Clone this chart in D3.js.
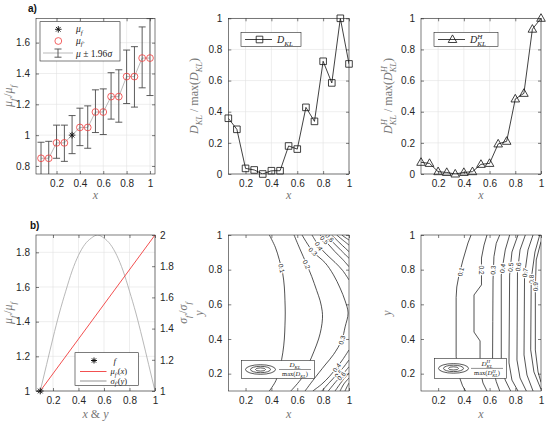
<!DOCTYPE html>
<html>
<head>
<meta charset="utf-8">
<script src="https://cdn.jsdelivr.net/npm/d3@7"></script>
<style>
  body { margin: 0; background: #fff; }
  svg { display: block; }
  .tick-label { font-family: "Liberation Sans", Arial, sans-serif; font-size: 10px; fill: #262626; }
  .math { font-family: "Liberation Serif", "Times New Roman", serif; }
  .panel-tag { font-family: "Liberation Sans", Arial, sans-serif; font-size: 10px; font-weight: bold; fill: #111; }
</style>
</head>
<body>
<svg id="chart" width="548" height="436"></svg>
<script>
//////////////////////////////////////////////////////////////////////
// Data
//////////////////////////////////////////////////////////////////////
const unitTicks = [0.2, 0.4, 0.6, 0.8, 1];
const ratioTicks = [0.8, 1, 1.2, 1.4, 1.6];
const divTicks = [0, 0.2, 0.4, 0.6, 0.8, 1];
const muTicksLeft = [1, 1.2, 1.4, 1.6, 1.8];
const sigmaTicksRight = [1, 1.2, 1.4, 1.6, 1.8, 2];

// row a) : sampled candidates f'
const sampleX = [0.067, 0.133, 0.2, 0.267, 0.333, 0.4, 0.467, 0.533, 0.6, 0.667, 0.733, 0.8, 0.867, 0.933, 1];
const refIndex = 4; // this sample is f itself
const muRatio = [0.85, 0.85, 0.95, 0.95, 1.0, 1.05, 1.05, 1.15, 1.15, 1.25, 1.25, 1.38, 1.38, 1.5, 1.5];
const muUpper = [0.954, 0.96, 1.065, 1.065, 1.127, 1.175, 1.19, 1.294, 1.30, 1.405, 1.424, 1.552, 1.574, 1.702, 1.756];
const muLower = [0.745, 0.745, 0.85, 0.83, 0.88, 0.932, 0.915, 1.017, 1.004, 1.104, 1.084, 1.205, 1.182, 1.307, 1.257];
const dklRel = [0.358, 0.287, 0.036, 0.026, 0.0, 0.021, 0.021, 0.18, 0.16, 0.428, 0.338, 0.724, 0.585, 1.0, 0.707];
const dklHRel = [0.075, 0.068, 0.015, 0.01, 0.0, 0.01, 0.015, 0.062, 0.068, 0.193, 0.21, 0.482, 0.518, 0.93, 1.0];

// row b) : parameter sweep
const refPoint = [0.1, 1];
const muSweepX = [0.1, 1];
const muSweep = [1, 1.9];
const sweepX = [0.1, 0.15, 0.2, 0.25, 0.3, 0.35, 0.4, 0.45, 0.5, 0.55, 0.6, 0.65, 0.7, 0.75, 0.8, 0.85, 0.9, 0.95, 1];
const sigmaSweep = [1, 1.17, 1.34, 1.5, 1.64, 1.77, 1.87, 1.94, 1.98, 2, 1.98, 1.94, 1.87, 1.77, 1.64, 1.5, 1.34, 1.17, 1];

// contour lines of D_KL / max(D_KL), traced as [x, y] points
const dklContours = [
  {level: 0.1, pts: [[0.384,1.0],[0.43,0.93],[0.46,0.86],[0.487,0.78],[0.50,0.70],[0.505,0.62],[0.507,0.55],[0.505,0.48],[0.50,0.40],[0.488,0.32],[0.467,0.24],[0.435,0.16],[0.384,0.1]]},
  {level: 0.2, pts: [[0.575,1.0],[0.62,0.92],[0.673,0.83],[0.712,0.76],[0.75,0.68],[0.777,0.62],[0.793,0.56],[0.795,0.52],[0.785,0.46],[0.765,0.40],[0.73,0.33],[0.69,0.26],[0.64,0.18],[0.55,0.1]]},
  {level: 0.3, pts: [[0.637,1.0],[0.72,0.905],[0.815,0.84],[0.88,0.77],[0.931,0.694],[0.97,0.62],[0.993,0.55],[0.97,0.47],[0.944,0.394],[0.88,0.31],[0.815,0.25],[0.72,0.16],[0.66,0.1]]},
  {level: 0.4, pts: [[0.714,1.0],[0.768,0.936],[0.83,0.885],[0.892,0.842],[0.95,0.796],[1.0,0.741]]},
  {level: 0.4, pts: [[1.0,0.337],[0.95,0.28],[0.905,0.235],[0.85,0.185],[0.79,0.14],[0.72,0.1]]},
  {level: 0.5, pts: [[0.776,1.0],[0.83,0.955],[0.89,0.905],[0.95,0.86],[1.0,0.817]]},
  {level: 0.5, pts: [[1.0,0.279],[0.95,0.23],[0.9,0.19],[0.85,0.15],[0.79,0.1]]},
  {level: 0.6, pts: [[0.822,1.0],[0.88,0.955],[0.94,0.91],[1.0,0.866]]},
  {level: 0.6, pts: [[1.0,0.24],[0.95,0.195],[0.9,0.155],[0.84,0.1]]},
  {level: 0.7, pts: [[0.866,1.0],[0.93,0.953],[1.0,0.904]]},
  {level: 0.7, pts: [[1.0,0.204],[0.95,0.16],[0.892,0.1]]},
  {level: 0.8, pts: [[0.905,1.0],[0.95,0.972],[1.0,0.942]]},
  {level: 0.8, pts: [[1.0,0.175],[0.96,0.14],[0.931,0.1]]},
  {level: 0.9, pts: [[0.944,1.0],[0.97,0.986],[1.0,0.971]]},
  {level: 0.9, pts: [[1.0,0.146],[0.985,0.125],[0.969,0.1]]}
];
const dklLabels = [[0.1,0.48,0.808],[0.2,0.673,0.83],[0.3,0.722,0.905],[0.4,0.768,0.936],[0.5,0.81,0.972],[0.6,0.85,0.985],
                   [0.3,0.944,0.394],[0.4,0.905,0.235],[0.5,0.92,0.2],[0.6,0.94,0.187]];

// contour lines of D_KL^H / max(D_KL^H)
const dklHContours = [
  {level: 0.1, pts: [[0.456,1.0],[0.432,0.954],[0.393,0.856],[0.36,0.76],[0.345,0.7],[0.34,0.64],[0.34,0.3],[0.354,0.204],[0.39,0.13],[0.413,0.1]]},
  {level: 0.2, pts: [[0.58,1.0],[0.557,0.942],[0.537,0.867],[0.537,0.712],[0.479,0.654],[0.479,0.44],[0.526,0.389],[0.526,0.221],[0.549,0.146],[0.58,0.1]]},
  {level: 0.3, pts: [[0.679,1.0],[0.652,0.952],[0.634,0.875],[0.627,0.741],[0.625,0.5],[0.623,0.24],[0.652,0.154],[0.679,0.1]]},
  {level: 0.4, pts: [[0.756,1.0],[0.722,0.914],[0.691,0.769],[0.691,0.25],[0.722,0.163],[0.764,0.1]]},
  {level: 0.5, pts: [[0.821,1.0],[0.774,0.902],[0.756,0.769],[0.751,0.262],[0.774,0.163],[0.821,0.1]]},
  {level: 0.6, pts: [[0.878,1.0],[0.837,0.914],[0.817,0.787],[0.813,0.279],[0.837,0.175],[0.886,0.1]]},
  {level: 0.7, pts: [[0.938,1.0],[0.899,0.914],[0.872,0.769],[0.868,0.308],[0.891,0.192],[0.938,0.1]]},
  {level: 0.8, pts: [[0.99,1.0],[0.953,0.902],[0.924,0.746],[0.92,0.337],[0.945,0.21],[1.0,0.11]]},
  {level: 0.9, pts: [[1.0,0.962],[0.963,0.856],[0.956,0.7],[0.956,0.337],[0.977,0.21],[1.0,0.15]]}
];
const dklHLabels = [[0.1,0.375,0.788],[0.2,0.537,0.798],[0.3,0.627,0.798],[0.4,0.70,0.808],[0.5,0.762,0.814],
                    [0.6,0.822,0.817],[0.7,0.874,0.783],[0.8,0.924,0.745],[0.9,0.956,0.702]];

//////////////////////////////////////////////////////////////////////
// Layout
//////////////////////////////////////////////////////////////////////
const svg = d3.select('#chart');
const axisInk = '#262626';
const labelInk = '#767676';
const red = '#f03c3c';

const boxA1 = {left: 36, right: 155, top: 18.3, bottom: 174};
const boxA2 = {left: 228.3, right: 349, top: 18.3, bottom: 174};
const boxA3 = {left: 421, right: 541, top: 18.3, bottom: 174};
const boxB1 = {left: 36, right: 155, top: 235, bottom: 391};
const boxB2 = {left: 228.3, right: 349, top: 235, bottom: 391};
const boxB3 = {left: 421, right: 541, top: 235, bottom: 391};

//////////////////////////////////////////////////////////////////////
// Private helpers
//////////////////////////////////////////////////////////////////////
function _styleAxis(sel) {
    sel.select('.domain').remove();
    sel.selectAll('line').attr('stroke', axisInk).attr('stroke-width', 0.6);
    sel.selectAll('text').attr('class', 'tick-label');
}

function _axes(box, x, y, xt, yt, opts = {}) {
    const g = svg.append('g');
    if (opts.grid) {
        g.selectAll('.gx').data(xt).join('line')
            .attr('x1', d => x(d)).attr('x2', d => x(d))
            .attr('y1', box.top).attr('y2', box.bottom)
            .attr('stroke', '#e2e2e2').attr('stroke-width', 0.6);
        g.selectAll('.gy').data(yt).join('line')
            .attr('x1', box.left).attr('x2', box.right)
            .attr('y1', d => y(d)).attr('y2', d => y(d))
            .attr('stroke', '#e2e2e2').attr('stroke-width', 0.6);
    }
    g.append('g').attr('transform', `translate(0,${box.bottom})`)
        .call(d3.axisBottom(x).tickValues(xt).tickSize(-3).tickPadding(6).tickFormat(d => String(d)))
        .call(_styleAxis);
    g.append('g').attr('transform', `translate(0,${box.top})`)
        .call(d3.axisTop(x).tickValues(xt).tickSize(-3).tickFormat(''))
        .call(_styleAxis);
    g.append('g').attr('transform', `translate(${box.left},0)`)
        .call(d3.axisLeft(y).tickValues(yt).tickSize(-3).tickPadding(6).tickFormat(d => String(d)))
        .call(_styleAxis);
    if (!opts.noRight) {
        g.append('g').attr('transform', `translate(${box.right},0)`)
            .call(d3.axisRight(y).tickValues(yt).tickSize(-3).tickFormat(''))
            .call(_styleAxis);
    }
    return g;
}

function _box(box) {
    svg.append('rect')
        .attr('x', box.left).attr('y', box.top)
        .attr('width', box.right - box.left).attr('height', box.bottom - box.top)
        .attr('fill', 'none').attr('stroke', axisInk).attr('stroke-width', 0.6);
}

function _clip(id, box) {
    svg.append('clipPath').attr('id', id).append('rect')
        .attr('x', box.left).attr('y', box.top)
        .attr('width', box.right - box.left).attr('height', box.bottom - box.top);
    return `url(#${id})`;
}

// segs: [text, kind] with kind 'i' italic, 'r' roman, 'sub', 'sup', 'subb' (sub under previous sup)
function _math(parent, segs, px, py, size, opts = {}) {
    const t = parent.append('text').attr('class', 'math')
        .attr('x', px).attr('y', py)
        .attr('text-anchor', opts.anchor || 'middle')
        .style('font-size', size + 'px')
        .attr('fill', opts.fill || labelInk);
    if (opts.rotate) t.attr('transform', `rotate(${opts.rotate},${px},${py})`);
    let shift = 0;
    let lastLen = 0;
    segs.forEach(([str, kind]) => {
        const ts = t.append('tspan').text(str);
        let target = 0;
        if (kind === 'sub' || kind === 'subb') target = size * 0.3;
        if (kind === 'sup') target = -size * 0.4;
        if (target - shift !== 0) ts.attr('dy', target - shift);
        shift = target;
        if (kind !== 'r') ts.style('font-style', 'italic');
        if (kind === 'sub' || kind === 'sup' || kind === 'subb') ts.style('font-size', (size * 0.7) + 'px');
        if (kind === 'subb') ts.attr('dx', -lastLen);
        lastLen = ts.node().getComputedTextLength();
    });
    return t;
}

function _asterisk(r) {
    const d = r * 0.707;
    return `M${-r},0L${r},0M0,${-r}L0,${r}M${-d},${-d}L${d},${d}M${-d},${d}L${d},${-d}`;
}

function _segDist(px, py, ax, ay, bx, by) {
    const dx = bx - ax, dy = by - ay;
    const len2 = dx * dx + dy * dy || 1;
    const t = Math.max(0, Math.min(1, ((px - ax) * dx + (py - ay) * dy) / len2));
    return Math.hypot(px - (ax + t * dx), py - (ay + t * dy));
}

function _contours(g, x, y, contours, labels, curve) {
    const line = d3.line().x(d => x(d[0])).y(d => y(d[1])).curve(curve);
    g.selectAll('.contour').data(contours).join('path')
        .attr('class', 'contour')
        .attr('d', d => line(d.pts))
        .attr('fill', 'none')
        .attr('stroke', '#1a1a1a')
        .attr('stroke-width', 0.75);

    labels.forEach(([level, lx, ly]) => {
        let best = null;
        contours.filter(c => c.level === level).forEach(c => {
            for (let k = 0; k < c.pts.length - 1; k++) {
                const ax = x(c.pts[k][0]), ay = y(c.pts[k][1]);
                const bx = x(c.pts[k + 1][0]), by = y(c.pts[k + 1][1]);
                const dist = _segDist(x(lx), y(ly), ax, ay, bx, by);
                if (!best || dist < best.dist) best = {dist, ang: Math.atan2(by - ay, bx - ax) * 180 / Math.PI};
            }
        });
        let ang = best ? best.ang : 0;
        if (ang > 90) ang -= 180;
        if (ang <= -90) ang += 180;
        g.append('text')
            .attr('x', x(lx)).attr('y', y(ly))
            .attr('transform', `rotate(${ang},${x(lx)},${y(ly)})`)
            .attr('text-anchor', 'middle')
            .attr('dominant-baseline', 'central')
            .attr('font-family', '"Liberation Sans", Arial, sans-serif')
            .attr('font-size', 6.5)
            .attr('fill', '#222')
            .attr('stroke', '#fff').attr('stroke-width', 2.5)
            .attr('paint-order', 'stroke')
            .text(String(level));
    });
}

function _legendBox(x0, y0, x1, y1) {
    svg.append('rect')
        .attr('x', x0).attr('y', y0).attr('width', x1 - x0).attr('height', y1 - y0)
        .attr('fill', '#fff').attr('stroke', axisInk).attr('stroke-width', 0.6);
}

//////////////////////////////////////////////////////////////////////
// a) left : mean ratio with 95% bars
//////////////////////////////////////////////////////////////////////
function drawMeanPanel() {
    const x = d3.scaleLinear().domain([0.024, 1.043]).range([boxA1.left, boxA1.right]);
    const y = d3.scaleLinear().domain([0.748, 1.758]).range([boxA1.bottom, boxA1.top]);
    _axes(boxA1, x, y, unitTicks, ratioTicks, {grid: true});

    const g = svg.append('g').attr('clip-path', _clip('clipA1', boxA1));
    const idx = d3.range(sampleX.length);

    g.append('path')
        .datum(idx)
        .attr('d', d3.line().x(i => x(sampleX[i])).y(i => y(muRatio[i])))
        .attr('fill', 'none').attr('stroke', '#8a8a8a').attr('stroke-width', 0.6);

    const bars = g.selectAll('.eb').data(idx).join('g').attr('class', 'eb')
        .attr('stroke', '#4a4a4a').attr('stroke-width', 0.9);
    bars.append('line')
        .attr('x1', i => x(sampleX[i])).attr('x2', i => x(sampleX[i]))
        .attr('y1', i => y(muLower[i])).attr('y2', i => y(muUpper[i]));
    bars.append('line')
        .attr('x1', i => x(sampleX[i]) - 3.5).attr('x2', i => x(sampleX[i]) + 3.5)
        .attr('y1', i => y(muUpper[i])).attr('y2', i => y(muUpper[i]));
    bars.append('line')
        .attr('x1', i => x(sampleX[i]) - 3.5).attr('x2', i => x(sampleX[i]) + 3.5)
        .attr('y1', i => y(muLower[i])).attr('y2', i => y(muLower[i]));

    g.selectAll('.mu').data(idx.filter(i => i !== refIndex)).join('circle')
        .attr('class', 'mu')
        .attr('cx', i => x(sampleX[i])).attr('cy', i => y(muRatio[i]))
        .attr('r', 3.4)
        .attr('fill', 'none').attr('stroke', red).attr('stroke-width', 0.8);

    g.append('path')
        .attr('d', _asterisk(3.3))
        .attr('transform', `translate(${x(sampleX[refIndex])},${y(muRatio[refIndex])})`)
        .attr('stroke', '#111').attr('stroke-width', 0.9);

    _box(boxA1);

    // legend
    _legendBox(40, 21.7, 120, 61);
    svg.append('path').attr('d', _asterisk(3.3)).attr('transform', 'translate(58.3,29.3)')
        .attr('stroke', '#111').attr('stroke-width', 0.9);
    _math(svg, [['μ', 'i'], ['f', 'sub']], 76, 32, 9.5, {anchor: 'start', fill: '#222'});
    svg.append('circle').attr('cx', 58.3).attr('cy', 41).attr('r', 3.4)
        .attr('fill', 'none').attr('stroke', red).attr('stroke-width', 0.8);
    _math(svg, [['μ', 'i'], ['f′', 'sub']], 76, 43.5, 9.5, {anchor: 'start', fill: '#222'});
    svg.append('line').attr('x1', 43).attr('x2', 73).attr('y1', 53).attr('y2', 53)
        .attr('stroke', '#8a8a8a').attr('stroke-width', 0.6);
    const lg = svg.append('g').attr('stroke', '#4a4a4a').attr('stroke-width', 0.9);
    lg.append('line').attr('x1', 58).attr('x2', 58).attr('y1', 49).attr('y2', 57.2);
    lg.append('line').attr('x1', 54.5).attr('x2', 61.5).attr('y1', 49).attr('y2', 49);
    lg.append('line').attr('x1', 54.5).attr('x2', 61.5).attr('y1', 57.2).attr('y2', 57.2);
    _math(svg, [['μ', 'i'], [' ± 1.96', 'r'], ['σ', 'i']], 76, 57, 9.5, {anchor: 'start', fill: '#222'});

    _math(svg, [['μ', 'i'], ['f′', 'sub'], ['/', 'r'], ['μ', 'i'], ['f', 'sub']], 12, 96, 12, {rotate: -90});
    _math(svg, [['x', 'i']], 95.5, 199, 12);
}

//////////////////////////////////////////////////////////////////////
// a) middle / right : normalised divergences
//////////////////////////////////////////////////////////////////////
function drawDivergencePanel(box, values, clipId, marker, legend, ylabel, ylabelX) {
    const x = d3.scaleLinear().domain([0.0667, 1]).range([box.left, box.right]);
    const y = d3.scaleLinear().domain([0, 1]).range([box.bottom, box.top]);
    _axes(box, x, y, unitTicks, divTicks, {grid: true});

    const g = svg.append('g').attr('clip-path', _clip(clipId, box));
    const idx = d3.range(sampleX.length);
    g.append('path')
        .datum(idx)
        .attr('d', d3.line().x(i => x(sampleX[i])).y(i => y(values[i])))
        .attr('fill', 'none').attr('stroke', '#111').attr('stroke-width', 0.8);
    svg.selectAll(null).data(idx).join('path')
        .attr('d', marker)
        .attr('transform', i => `translate(${x(sampleX[i])},${y(values[i])})`)
        .attr('fill', 'none').attr('stroke', '#111').attr('stroke-width', 0.8);

    _box(box);

    _legendBox(legend.x0, 32.3, legend.x1, 46.7);
    svg.append('line').attr('x1', legend.x0 + 4).attr('x2', legend.x0 + 31).attr('y1', 39.5).attr('y2', 39.5)
        .attr('stroke', '#111').attr('stroke-width', 0.8);
    svg.append('path').attr('d', marker).attr('transform', `translate(${legend.x0 + 18.5},39.5)`)
        .attr('fill', 'none').attr('stroke', '#111').attr('stroke-width', 0.8);
    _math(svg, legend.text, legend.x0 + 36, 43, 10, {anchor: 'start', fill: '#222'});

    _math(svg, ylabel, ylabelX, 96, 12, {rotate: -90});
    _math(svg, [['x', 'i']], (box.left + box.right) / 2, 199, 12);
}

//////////////////////////////////////////////////////////////////////
// b) left : the sweep of mean and spread
//////////////////////////////////////////////////////////////////////
function drawSweepPanel() {
    const x = d3.scaleLinear().domain([0.0667, 1]).range([boxB1.left, boxB1.right]);
    const yL = d3.scaleLinear().domain([1, 1.9]).range([boxB1.bottom, boxB1.top]);
    const yR = d3.scaleLinear().domain([1, 2]).range([boxB1.bottom, boxB1.top]);
    _axes(boxB1, x, yL, unitTicks, muTicksLeft, {grid: true, noRight: true});
    svg.append('g').attr('transform', `translate(${boxB1.right},0)`)
        .call(d3.axisRight(yR).tickValues(sigmaTicksRight).tickSize(-3).tickPadding(5).tickFormat(d => String(d)))
        .call(_styleAxis);

    const g = svg.append('g').attr('clip-path', _clip('clipB1', boxB1));
    g.append('path')
        .datum(d3.range(sweepX.length))
        .attr('d', d3.line().x(i => x(sweepX[i])).y(i => yR(sigmaSweep[i])).curve(d3.curveMonotoneX))
        .attr('fill', 'none').attr('stroke', '#a6a6a6').attr('stroke-width', 0.8);
    g.append('path')
        .datum(d3.range(muSweepX.length))
        .attr('d', d3.line().x(i => x(muSweepX[i])).y(i => yL(muSweep[i])))
        .attr('fill', 'none').attr('stroke', red).attr('stroke-width', 0.9);

    _box(boxB1);
    svg.append('path').attr('d', _asterisk(3.3))
        .attr('transform', `translate(${x(refPoint[0])},${yL(refPoint[1])})`)
        .attr('stroke', '#111').attr('stroke-width', 1);

    // legend
    _legendBox(75, 352.7, 138.3, 385.5);
    svg.append('path').attr('d', _asterisk(3)).attr('transform', 'translate(94,360.5)')
        .attr('stroke', '#111').attr('stroke-width', 1);
    _math(svg, [['f', 'i']], 113.5, 363.5, 9, {anchor: 'start', fill: '#222'});
    svg.append('line').attr('x1', 80).attr('x2', 106.5).attr('y1', 371.5).attr('y2', 371.5)
        .attr('stroke', red).attr('stroke-width', 0.9);
    _math(svg, [['μ', 'i'], ['f′', 'sub'], ['(', 'r'], ['x', 'i'], [')', 'r']], 110.5, 374, 8.5, {anchor: 'start', fill: '#222'});
    svg.append('line').attr('x1', 80).attr('x2', 106.5).attr('y1', 381).attr('y2', 381)
        .attr('stroke', '#a6a6a6').attr('stroke-width', 1.2);
    _math(svg, [['σ', 'i'], ['f′', 'sub'], ['(', 'r'], ['y', 'i'], [')', 'r']], 110.5, 383.5, 8.5, {anchor: 'start', fill: '#222'});

    _math(svg, [['μ', 'i'], ['f′', 'sub'], ['/', 'r'], ['μ', 'i'], ['f', 'sub']], 12, 313, 12, {rotate: -90});
    _math(svg, [['σ', 'i'], ['f′', 'sub'], ['/', 'r'], ['σ', 'i'], ['f', 'sub']], 187, 313, 12, {rotate: -90});
    _math(svg, [['x', 'i'], [' & ', 'r'], ['y', 'i']], 95.5, 418, 12);
}

//////////////////////////////////////////////////////////////////////
// b) middle / right : contour maps
//////////////////////////////////////////////////////////////////////
function drawContourPanel(box, contours, labels, clipId, curve, legend, ylabelX) {
    const x = d3.scaleLinear().domain([0.0667, 1]).range([box.left, box.right]);
    const y = d3.scaleLinear().domain([0.1, 1]).range([box.bottom, box.top]);
    _axes(box, x, y, unitTicks, unitTicks);

    const g = svg.append('g').attr('clip-path', _clip(clipId, box));
    _contours(g, x, y, contours, labels, curve);
    _box(box);

    // legend with contour glyph and fraction
    _legendBox(legend.x0, legend.y0, legend.x1, 378.5);
    const cy = (legend.y0 + 378.5) / 2;
    const cx = legend.x0 + 19;
    [[15, 4.8], [10, 3.2], [5, 1.6]].forEach(([rx, ry]) => {
        svg.append('ellipse').attr('cx', cx).attr('cy', cy).attr('rx', rx).attr('ry', ry)
            .attr('fill', 'none').attr('stroke', '#111').attr('stroke-width', 0.7);
    });
    const fx = legend.fx;
    _math(svg, legend.num, fx, cy - 2.6, 7, {fill: '#222'});
    svg.append('line').attr('x1', fx - 16).attr('x2', fx + 16).attr('y1', cy).attr('y2', cy)
        .attr('stroke', '#222').attr('stroke-width', 0.5);
    _math(svg, legend.den, fx, cy + 6.8, 6.5, {fill: '#222'});

    _math(svg, [['y', 'i']], ylabelX, 313, 12, {rotate: -90});
    _math(svg, [['x', 'i']], (box.left + box.right) / 2, 418, 12);
}

//////////////////////////////////////////////////////////////////////
// Build the figure
//////////////////////////////////////////////////////////////////////
const squareMarker = 'M-3.3,-3.3H3.3V3.3H-3.3Z';
const triangleMarker = 'M0,-4.6L4.3,3L-4.3,3Z';
const dklText = [['D', 'i'], ['KL', 'sub']];
const dklHText = [['D', 'i'], ['H', 'sup'], ['KL', 'subb']];

drawMeanPanel();
drawDivergencePanel(boxA2, dklRel, 'clipA2', squareMarker,
    {x0: 241, x1: 301, text: dklText},
    [['D', 'i'], ['KL', 'sub'], [' / max(', 'r'], ['D', 'i'], ['KL', 'sub'], [')', 'r']], 198);
drawDivergencePanel(boxA3, dklHRel, 'clipA3', triangleMarker,
    {x0: 434, x1: 498, text: dklHText},
    [['D', 'i'], ['H', 'sup'], ['KL', 'subb'], [' / max(', 'r'], ['D', 'i'], ['H', 'sup'], ['KL', 'subb'], [')', 'r']], 392);
drawSweepPanel();
drawContourPanel(boxB2, dklContours, dklLabels, 'clipB2', d3.curveCatmullRom,
    {x0: 241.5, y0: 360.5, x1: 314.3, fx: 295, num: dklText,
     den: [['max(', 'r'], ['D', 'i'], ['KL', 'sub'], [')', 'r']]}, 203);
drawContourPanel(boxB3, dklHContours, dklHLabels, 'clipB3', d3.curveLinear,
    {x0: 434.5, y0: 358.3, x1: 506.5, fx: 487, num: dklHText,
     den: [['max(', 'r'], ['D', 'i'], ['H', 'sup'], ['KL', 'subb'], [')', 'r']]}, 391);

svg.append('text').attr('class', 'panel-tag').attr('x', 28).attr('y', 12).text('a)');
svg.append('text').attr('class', 'panel-tag').attr('x', 30).attr('y', 228.5).text('b)');
</script>
</body>
</html>
